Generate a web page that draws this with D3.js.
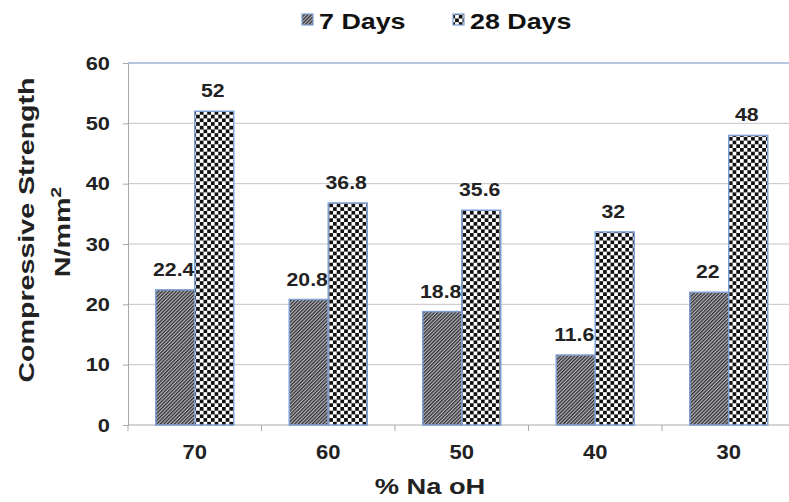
<!DOCTYPE html>
<html>
<head>
<meta charset="utf-8">
<script src="https://cdn.jsdelivr.net/npm/d3@7"></script>
<style>
  html, body { margin: 0; padding: 0; background: #fff; }
  svg { display: block; font-family: Arial, "Liberation Sans", sans-serif; }
</style>
</head>
<body>
<svg id="chart" width="789" height="502"></svg>
<script>
// Compressive strength vs. NaOH percentage
const categories = ["70", "60", "50", "40", "30"];
const seriesNames = ["7 Days", "28 Days"];
const days7 = [22.4, 20.8, 18.8, 11.6, 22];
const days28 = [52, 36.8, 35.6, 32, 48];
const yTicks = [0, 10, 20, 30, 40, 50, 60];

const svg = d3.select("#chart");
const defs = svg.append("defs");

// Widen bold text a little along its reading direction
function widen(sel, factor) {
  sel.each(function () {
    const len = this.getComputedTextLength();
    d3.select(this)
      .attr("textLength", len * factor)
      .attr("lengthAdjust", "spacingAndGlyphs");
  });
}

// Diagonal hatch for the 7-day bars
const hatch = defs.append("pattern")
  .attr("id", "hatch")
  .attr("patternUnits", "userSpaceOnUse")
  .attr("width", 2.5).attr("height", 2.5)
  .attr("patternTransform", "rotate(45)");
hatch.append("rect").attr("width", 2.5).attr("height", 2.5).attr("fill", "#b8b8bc");
hatch.append("rect").attr("width", 1.3).attr("height", 2.5).attr("fill", "#2e2e33");

// Checkerboard for the 28-day bars
const checker = defs.append("pattern")
  .attr("id", "checker")
  .attr("patternUnits", "userSpaceOnUse")
  .attr("width", 7.4).attr("height", 7.4);
checker.append("rect").attr("width", 7.4).attr("height", 7.4).attr("fill", "#ffffff");
checker.append("rect").attr("width", 3.7).attr("height", 3.7).attr("fill", "#111");
checker.append("rect").attr("x", 3.7).attr("y", 3.7).attr("width", 3.7).attr("height", 3.7).attr("fill", "#111");

const fills = ["url(#hatch)", "url(#checker)"];
const series = [days7, days28];

const x = d3.scaleBand().domain(categories).range([128, 795.5]).padding(0);
const y = d3.scaleLinear().domain([0, 60]).range([425, 63]);
const barW = 39;

// Gridlines
svg.append("g")
  .selectAll("line")
  .data(yTicks.filter(t => t > 0))
  .join("line")
  .attr("x1", 128).attr("x2", 789)
  .attr("y1", d => y(d)).attr("y2", d => y(d))
  .attr("stroke", d => d === 60 ? "#9fb3d6" : "#c4c4c4")
  .attr("stroke-width", d => d === 60 ? 1.5 : 1);

// Y axis
const yAxis = svg.append("g")
  .attr("transform", "translate(128,0)")
  .call(d3.axisLeft(y).tickValues(yTicks).tickSize(5).tickPadding(13));
yAxis.select(".domain").attr("stroke", "#a8a8a8");
yAxis.selectAll(".tick line").attr("stroke", "#a8a8a8");
yAxis.selectAll(".tick text")
  .attr("font-size", 19).attr("font-weight", "bold").attr("fill", "#222")
  .attr("font-family", "Arial, 'Liberation Sans', sans-serif")
  .call(widen, 1.15);

// X axis with separators between categories
const xAxisG = svg.append("g").attr("transform", `translate(0,${y(0)})`);
xAxisG.append("line")
  .attr("x1", 128).attr("x2", 789)
  .attr("y1", 0).attr("y2", 0)
  .attr("stroke", "#a8a8a8");
xAxisG.selectAll("line.sep")
  .data(categories)
  .join("line")
  .attr("class", "sep")
  .attr("x1", d => x(d)).attr("x2", d => x(d))
  .attr("y1", 0).attr("y2", 6)
  .attr("stroke", "#a8a8a8");
xAxisG.selectAll("text")
  .data(categories)
  .join("text")
  .attr("x", d => x(d) + x.bandwidth() / 2)
  .attr("y", 34)
  .attr("text-anchor", "middle")
  .attr("font-size", 20).attr("font-weight", "bold").attr("fill", "#222")
  .text(d => d)
  .call(widen, 1.1);

// Bars and value labels
series.forEach((vals, si) => {
  const g = svg.append("g");
  g.selectAll("rect")
    .data(vals)
    .join("rect")
    .attr("x", (d, i) => x(categories[i]) + x.bandwidth() / 2 - barW + si * barW)
    .attr("y", d => y(d))
    .attr("width", barW)
    .attr("height", d => y(0) - y(d))
    .attr("fill", fills[si])
    .attr("stroke", "#7f9fd4")
    .attr("stroke-width", 1.5);
  g.selectAll("text")
    .data(vals)
    .join("text")
    .attr("x", (d, i) => x(categories[i]) + x.bandwidth() / 2 - barW + si * barW + barW / 2 - 1.5)
    .attr("y", d => y(d) - 14)
    .attr("text-anchor", "middle")
    .attr("font-size", 18).attr("font-weight", "bold").attr("fill", "#222")
    .text(d => d)
    .call(widen, 1.18);
});

// Legend
const legendX = [302, 453];
seriesNames.forEach((name, i) => {
  svg.append("rect")
    .attr("x", legendX[i]).attr("y", 14)
    .attr("width", 11).attr("height", 11)
    .attr("fill", fills[i])
    .attr("stroke", "#7f9fd4").attr("stroke-width", 1.2);
  svg.append("text")
    .attr("x", legendX[i] + 17).attr("y", 29)
    .attr("font-size", 22).attr("font-weight", "bold").attr("fill", "#111")
    .text(name)
    .call(widen, 1.22);
});

// Axis titles
const yTitle = svg.append("g").attr("transform", "translate(0,230) rotate(-90)");
yTitle.append("text")
  .attr("x", 0).attr("y", 34)
  .attr("text-anchor", "middle")
  .attr("font-size", 22).attr("font-weight", "bold").attr("fill", "#222")
  .text("Compressive Strength")
  .call(widen, 1.3);
const unit = yTitle.append("text")
  .attr("x", -2).attr("y", 70)
  .attr("text-anchor", "middle")
  .attr("font-size", 22).attr("font-weight", "bold").attr("fill", "#222");
unit.append("tspan").text("N/mm");
unit.append("tspan").attr("dy", -9).attr("font-size", 15).text("2");
unit.call(widen, 1.3);

svg.append("text")
  .attr("x", 430).attr("y", 494)
  .attr("text-anchor", "middle")
  .attr("font-size", 22).attr("font-weight", "bold").attr("fill", "#222")
  .text("% Na oH")
  .call(widen, 1.24);
</script>
</body>
</html>
